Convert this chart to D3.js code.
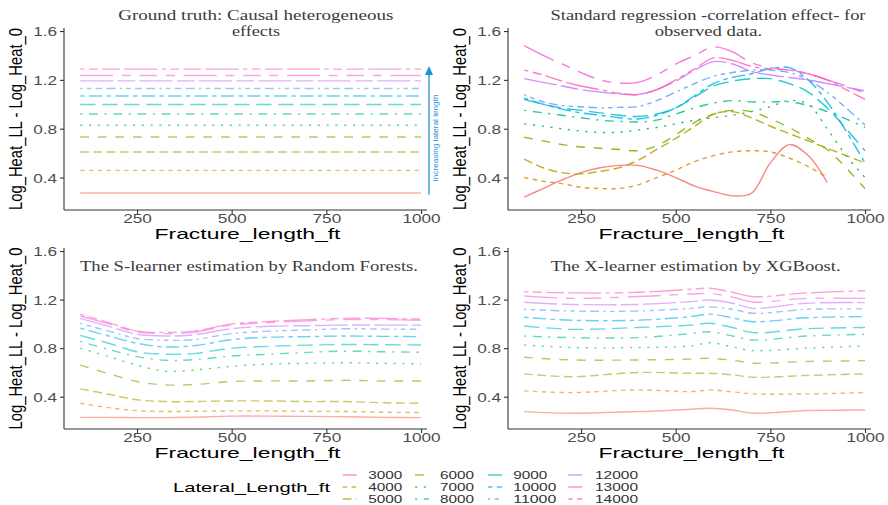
<!DOCTYPE html>
<html><head><meta charset="utf-8">
<script src="https://cdn.jsdelivr.net/npm/d3@7/dist/d3.min.js"></script>
<style>body{margin:0;background:#fff}svg{display:block}</style>
</head><body>
<svg id="chart" width="888" height="505"></svg>
<script>
// ---------------- DATA ----------------
const lateralLengths = [3000,4000,5000,6000,7000,8000,9000,10000,11000,12000,13000,14000];
const xTickValues = [250, 500, 750, 1000];
const yTickValues = [0.4, 0.8, 1.2, 1.6];

// Panel 1: ground truth (constant effect per lateral length)
const truthX = [100, 1000];
const truthEffect = [0.273, 0.459, 0.609, 0.732, 0.828, 0.921, 0.998, 1.068, 1.129, 1.192, 1.236, 1.288];

// Panel 2: standard regression (correlation effect)
const regressionX = [100,150,200,250,300,350,400,450,500,550,600,650,700,750,800,850,900,950,1000];
const regressionValues = [
  [0.24,0.31,0.38,0.44,0.48,0.50,0.50,0.46,0.40,0.33,0.285,0.25,0.27,0.52,0.67,0.58,0.36,null,null],
  [0.40,0.37,0.35,0.32,0.31,0.31,0.34,0.40,0.46,0.53,0.58,0.61,0.62,0.61,0.56,0.49,0.40,null,null],
  [0.55,0.48,0.44,0.43,0.45,0.48,0.54,0.63,0.72,0.82,0.92,0.94,0.89,0.82,0.76,0.70,0.64,0.58,0.52],
  [0.73,0.70,0.67,0.65,0.64,0.63,0.62,0.66,0.75,0.85,0.92,0.95,0.94,0.88,0.81,0.72,0.63,0.48,0.31],
  [0.84,0.82,0.80,0.78,0.77,0.77,0.79,0.81,0.84,0.87,0.89,0.91,0.94,0.98,1.03,1.00,0.80,0.58,0.40],
  [0.95,0.93,0.91,0.89,0.87,0.86,0.855,0.87,0.92,0.97,1.01,1.03,1.02,1.02,1.02,0.99,0.94,0.88,0.81],
  [1.04,1.00,0.97,0.95,0.93,0.91,0.90,0.92,0.97,1.06,1.15,1.19,1.21,1.21,1.17,1.10,0.97,0.80,0.62],
  [1.05,1.00,0.96,0.93,0.91,0.89,0.88,0.91,0.97,1.07,1.17,1.22,1.25,1.29,1.30,1.20,1.02,0.78,0.52],
  [1.08,1.02,0.99,0.98,0.97,0.975,0.98,1.03,1.10,1.17,1.23,1.26,1.28,1.28,1.26,1.20,1.10,0.97,0.83],
  [1.21,1.18,1.15,1.12,1.10,1.085,1.08,1.12,1.19,1.28,1.35,1.33,1.27,1.24,1.22,1.20,1.17,1.14,1.11],
  [1.48,1.40,1.33,1.26,1.20,1.175,1.18,1.24,1.33,1.40,1.47,1.43,1.34,1.30,1.28,1.25,1.20,1.15,1.09],
  [1.28,1.24,1.19,1.15,1.12,1.09,1.08,1.12,1.20,1.29,1.38,1.36,1.31,1.29,1.28,1.25,1.20,1.12,1.04]
];

// Panel 3: S-learner (Random Forests)
const sLearnerX = [100,175,250,325,400,500,600,700,800,900,1000];
const sLearnerValues = [
  [0.23,0.23,0.228,0.228,0.232,0.24,0.24,0.238,0.235,0.23,0.228],
  [0.345,0.31,0.285,0.278,0.28,0.283,0.283,0.28,0.278,0.272,0.27],
  [0.465,0.42,0.375,0.36,0.36,0.365,0.365,0.36,0.36,0.35,0.346],
  [0.66,0.59,0.525,0.497,0.50,0.525,0.53,0.53,0.535,0.53,0.53],
  [0.80,0.73,0.66,0.61,0.62,0.65,0.67,0.675,0.68,0.675,0.67],
  [0.855,0.79,0.73,0.70,0.705,0.735,0.75,0.765,0.775,0.77,0.766],
  [0.905,0.84,0.77,0.75,0.755,0.80,0.815,0.825,0.83,0.828,0.826],
  [0.965,0.90,0.84,0.81,0.82,0.87,0.89,0.895,0.90,0.897,0.895],
  [1.005,0.94,0.88,0.865,0.87,0.92,0.94,0.95,0.96,0.957,0.955],
  [1.045,0.98,0.915,0.90,0.91,0.96,0.98,0.985,0.99,0.99,0.99],
  [1.065,1.00,0.935,0.92,0.93,0.99,1.01,1.025,1.035,1.035,1.03],
  [1.08,1.01,0.94,0.93,0.94,1.00,1.02,1.035,1.045,1.045,1.04]
];

// Panel 4: X-learner (XGBoost)
const xLearnerX = [100,225,400,540,590,650,705,845,1000];
const xLearnerValues = [
  [0.277,0.264,0.277,0.297,0.305,0.29,0.264,0.286,0.291],
  [0.448,0.434,0.456,0.442,0.456,0.44,0.423,0.423,0.434],
  [0.588,0.565,0.60,0.593,0.593,0.58,0.56,0.575,0.588],
  [0.725,0.703,0.703,0.71,0.717,0.70,0.676,0.69,0.697],
  [0.826,0.805,0.805,0.818,0.845,0.81,0.78,0.80,0.818],
  [0.90,0.887,0.887,0.92,0.935,0.90,0.867,0.90,0.914],
  [0.983,0.955,0.97,0.99,1.005,0.97,0.928,0.96,0.97],
  [1.054,1.03,1.03,1.06,1.08,1.05,1.018,1.05,1.06],
  [1.12,1.106,1.106,1.128,1.14,1.12,1.087,1.12,1.123],
  [1.178,1.16,1.16,1.183,1.197,1.17,1.128,1.17,1.175],
  [1.23,1.21,1.225,1.246,1.25,1.22,1.18,1.21,1.21],
  [1.265,1.255,1.26,1.285,1.293,1.26,1.224,1.255,1.273]
];

const panelTitles = [
  ["Ground truth: Causal heterogeneous", "effects"],
  ["Standard regression -correlation effect- for", "observed data."],
  ["The S-learner estimation by Random Forests."],
  ["The X-learner estimation by XGBoost."]
];
const xAxisTitle = "Fracture_length_ft";
const yAxisTitle = "Log_Heat_LL - Log_Heat_0";
const legendTitle = "Lateral_Length_ft";
const annotationText = "Increasing lateral length";

// ---------------- STYLE ----------------
const palette = ["#F8766D","#DE8C00","#B79F00","#7CAE00","#00BA38","#00C08B","#00BFC4","#00B4F0","#619CFF","#C77CFF","#F564E3","#FF64B0"];
const ltyHex = ["solid","22","42","44","13","1343","73","2262","12223242","F282","F4448444","224282F2"];
const U = 2.2;
const dashOf = h => h === "solid" ? null : h.split("").map(c => parseInt(c,16)*U).join(",");
const SANS = "Liberation Sans, Arial, sans-serif";
const SERIF = "Liberation Serif, Times New Roman, serif";
const STRETCH = 1.32;

const svg = d3.select("#chart");
svg.append("rect").attr("width",888).attr("height",505).attr("fill","#fff");

function fitText(sel, width){
  sel.each(function(){
    const w = width != null ? width : this.getComputedTextLength()*STRETCH;
    d3.select(this).attr("textLength", w).attr("lengthAdjust","spacingAndGlyphs");
  });
  return sel;
}

const panels = [
  {left:64,  top:28,  bottom:210, xs:truthX,      vals:truthEffect.map(v => truthX.map(() => v)), curve:d3.curveLinear, op:0.6,
   titleLines:[{x:255.8,y:19.5,w:275},{x:256,y:36.3,w:48}]},
  {left:508, top:28,  bottom:210, xs:regressionX, vals:regressionValues, curve:d3.curveCatmullRom, op:0.85,
   titleLines:[{x:708,y:19.5,w:315},{x:708.5,y:36.3,w:107.6}]},
  {left:64,  top:248, bottom:429, xs:sLearnerX,   vals:sLearnerValues, curve:d3.curveCatmullRom, op:0.6,
   titleLines:[{x:249,y:270.5,w:338}]},
  {left:508, top:248, bottom:429, xs:xLearnerX,   vals:xLearnerValues, curve:d3.curveCatmullRom, op:0.6,
   titleLines:[{x:695.7,y:270.5,w:290}]}
];

panels.forEach((p, pi) => {
  const x = d3.scaleLinear().domain([57.2, 1015.8]).range([p.left, p.left + 363]);
  const y = d3.scaleLinear().domain([0.134, 1.625]).range([p.bottom, p.top]);
  const g = svg.append("g");

  // series
  const line = d3.line().defined(d => d[1] != null).x(d => x(d[0])).y(d => y(d[1])).curve(p.curve);
  p.vals.forEach((vals, si) => {
    const pts = p.xs.map((xv, k) => [xv, vals[k]]);
    g.append("path").attr("d", line(pts))
      .attr("fill","none").attr("stroke", palette[si]).attr("stroke-width",1.4)
      .attr("stroke-opacity", p.op)
      .attr("stroke-dasharray", dashOf(ltyHex[si]));
  });

  // axes
  const xAxis = g.append("g").attr("transform",`translate(0,${p.bottom})`)
    .call(d3.axisBottom(x).tickValues(xTickValues).tickSize(4).tickPadding(3).tickFormat(d3.format("d")));
  const yAxis = g.append("g").attr("transform",`translate(${p.left},0)`)
    .call(d3.axisLeft(y).tickValues(yTickValues).tickSize(4).tickPadding(3).tickFormat(d3.format(".1f")));
  [xAxis, yAxis].forEach(a => {
    a.select(".domain").remove();
    a.selectAll(".tick line").attr("stroke","#333").attr("stroke-width",1.1);
    a.selectAll(".tick text").attr("fill","#4d4d4d").style("font-family",SANS).style("font-size","13px");
  });
  g.append("line").attr("x1",p.left).attr("x2",p.left+363).attr("y1",p.bottom).attr("y2",p.bottom).attr("stroke","#333").attr("stroke-width",1.1);
  g.append("line").attr("x1",p.left).attr("x2",p.left).attr("y1",p.top).attr("y2",p.bottom).attr("stroke","#333").attr("stroke-width",1.1);
  xAxis.selectAll(".tick text").attr("dy",null).attr("y",12.5);
  yAxis.selectAll(".tick text").attr("dy","0.36em");
  fitText(xAxis.selectAll(".tick text"));
  fitText(yAxis.selectAll(".tick text"));

  // axis titles
  fitText(g.append("text").attr("x", p.left + 183.5).attr("y", p.bottom + 29)
    .attr("text-anchor","middle").style("font-family",SANS).style("font-size","15px").attr("fill","#000")
    .text(xAxisTitle), 186);
  fitText(g.append("text").attr("transform",`translate(${p.left-42},${(p.top+p.bottom)/2}) scale(1.2,1) rotate(-90)`)
    .attr("text-anchor","middle").style("font-family",SANS).style("font-size","14.8px").attr("fill","#000")
    .text(yAxisTitle), 182);

  // titles
  panelTitles[pi].forEach((t, li) => {
    const tl = p.titleLines[li];
    fitText(g.append("text").attr("x", tl.x).attr("y", tl.y).attr("text-anchor","middle")
      .style("font-family",SERIF).style("font-size","15.5px").attr("fill","#3a3a3a").text(t), tl.w);
  });

  // annotation arrow in ground-truth panel
  if (pi === 0) {
    const ax = 429, blue = "#1f8fd8";
    g.append("line").attr("x1",ax).attr("x2",ax).attr("y1",y(0.26)).attr("y2",y(1.28)+4)
      .attr("stroke",blue).attr("stroke-width",1.3);
    const tipY = y(1.28) - 4;
    g.append("path").attr("d",`M${ax},${tipY} L${ax-4},${tipY+9} L${ax+4},${tipY+9} Z`).attr("fill",blue);
    fitText(g.append("text").attr("transform",`translate(438,138) rotate(-90)`)
      .attr("text-anchor","middle").style("font-family",SANS).style("font-size","6.6px").attr("fill",blue)
      .text(annotationText), 87);
  }
});

// ---------------- LEGEND ----------------
const lg = svg.append("g");
fitText(lg.append("text").attr("x",173).attr("y",491.7).style("font-family",SANS).style("font-size","13.5px")
  .attr("fill","#000").text(legendTitle), 157);
const keyX = [342.7, 415, 488, 568.3];
const labX = [368.3, 440, 513.3, 595];
const rowY = [475, 487, 499];
lateralLengths.forEach((L, i) => {
  const c = Math.floor(i/3), r = i % 3;
  lg.append("line").attr("x1",keyX[c]).attr("x2",keyX[c]+14).attr("y1",rowY[r]).attr("y2",rowY[r])
    .attr("stroke",palette[i]).attr("stroke-width",1.4).attr("stroke-opacity",0.75)
    .attr("stroke-dasharray", dashOf(ltyHex[i]));
  fitText(lg.append("text").attr("x",labX[c]).attr("y",rowY[r]+4).style("font-family",SANS).style("font-size","11px")
    .attr("fill","#333").text(L), String(L).length === 4 ? 34 : 43);
});
</script>
</body></html>
